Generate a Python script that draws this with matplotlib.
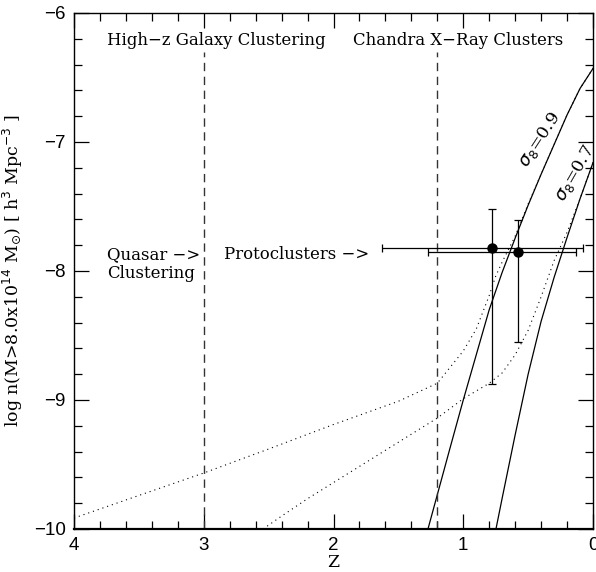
"""Cluster abundance vs redshift for two sigma_8 normalisations."""
import numpy as np
import matplotlib.pyplot as plt
from matplotlib.ticker import MultipleLocator

# sigma_8 = 0.9, solid
z_s09 = [1.272, 1.2, 1.1, 1.0, 0.9, 0.8, 0.7, 0.6, 0.5, 0.4, 0.3, 0.2, 0.1, 0.0]
n_s09 = [-10.0, -9.734, -9.365, -9.0, -8.65, -8.30, -8.01, -7.745, -7.49,
         -7.25, -7.02, -6.79, -6.585, -6.43]

# sigma_8 = 0.7, solid
z_s07 = [0.748, 0.7, 0.6, 0.5, 0.4, 0.3, 0.2, 0.1, 0.0]
n_s07 = [-10.0, -9.76, -9.27, -8.80, -8.39, -8.05, -7.74, -7.44, -7.16]

# dotted companions
z_d09 = [4.0, 3.5, 3.0, 2.5, 2.0, 1.5, 1.2, 1.0, 0.9, 0.8, 0.75, 0.7, 0.65,
         0.6, 0.5, 0.4, 0.3, 0.2, 0.1, 0.0]
n_d09 = [-9.915, -9.74, -9.566, -9.38, -9.19, -9.01, -8.87, -8.62, -8.45,
         -8.19, -8.04, -7.93, -7.83, -7.73, -7.48, -7.25, -7.02, -6.79,
         -6.585, -6.43]

z_d07 = [2.543, 2.4, 2.2, 2.0, 1.8, 1.6, 1.4, 1.2, 1.0, 0.8, 0.7, 0.6, 0.5,
         0.4, 0.3, 0.2, 0.1, 0.0]
n_d07 = [-10.0, -9.90, -9.765, -9.64, -9.515, -9.39, -9.265, -9.14, -8.99,
         -8.87, -8.79, -8.65, -8.46, -8.20, -7.92, -7.70, -7.44, -7.16]

# protocluster measurements
pt_z = np.array([0.776, 0.576])
pt_n = np.array([-7.824, -7.855])
pt_z_lo = np.array([0.079, 0.131])
pt_z_hi = np.array([1.628, 1.274])
pt_n_lo = np.array([-8.876, -8.548])
pt_n_hi = np.array([-7.52, -7.605])

divider_z = [3.0, 1.2]

plt.rcParams["font.family"] = "DejaVu Serif"

fig = plt.figure(figsize=(5.96, 5.72), dpi=100)
ax = fig.add_axes([0.1242, 0.0752, 0.8708, 0.9021])

ax.plot(z_s09, n_s09, color="black", lw=0.9)
ax.plot(z_s07, n_s07, color="black", lw=0.9)
ax.plot(z_d09, n_d09, color="black", lw=0.8, ls=(0, (1, 3.5)))
ax.plot(z_d07, n_d07, color="black", lw=0.8, ls=(0, (1, 3.5)))

for zd in divider_z:
    ax.plot([zd, zd], [-10, -6.3], color="#333333", lw=1.0, ls=(0, (6, 4)))

xerr = np.vstack([pt_z - pt_z_lo, pt_z_hi - pt_z])
yerr = np.vstack([pt_n - pt_n_lo, pt_n_hi - pt_n])
ax.errorbar(pt_z, pt_n, xerr=xerr, yerr=yerr, fmt="o", color="black",
            ms=6.5, elinewidth=0.9, capsize=3, capthick=0.9)

txt = dict(fontsize=11.9, va="center", ha="left")
ax.text(3.746, -6.217, "High\u2212z Galaxy Clustering", **txt)
ax.text(1.85, -6.217, "Chandra X\u2212Ray Clusters", **txt)
ax.text(3.746, -7.876, "Quasar \u2212>", **txt)
ax.text(3.746, -8.02, "Clustering", **txt)
ax.text(2.844, -7.876, "Protoclusters \u2212>", **txt)
ax.text(0.408, -6.984, r"$\sigma_8$=0.9", fontsize=12.5, rotation=57,
        ha="center", va="center")
ax.text(0.133, -7.24, r"$\sigma_8$=0.7", fontsize=12.5, rotation=60,
        ha="center", va="center")

ax.set_xlim(4, 0)
ax.set_ylim(-10, -6)
ax.xaxis.set_major_locator(MultipleLocator(1))
ax.xaxis.set_minor_locator(MultipleLocator(0.2))
ax.yaxis.set_major_locator(MultipleLocator(1))
ax.yaxis.set_minor_locator(MultipleLocator(0.2))
ax.tick_params(which="both", direction="in", top=True, right=True,
               width=0.9, labelsize=13.5, labelfontfamily="Liberation Sans")
ax.tick_params(which="major", length=11, pad=6)
ax.tick_params(which="minor", length=6)
for side in ["left", "right", "top"]:
    ax.spines[side].set_linewidth(1.0)
ax.spines["bottom"].set_linewidth(1.6)

ax.set_xlabel("Z", fontsize=12.5, labelpad=0)
ax.set_ylabel(r"log n(M>8.0x10$^{14}$ M$_{\odot}$) [ h$^3$ Mpc$^{-3}$ ]",
              fontsize=12.5, labelpad=6)

fig.savefig("out.png", dpi=100)
